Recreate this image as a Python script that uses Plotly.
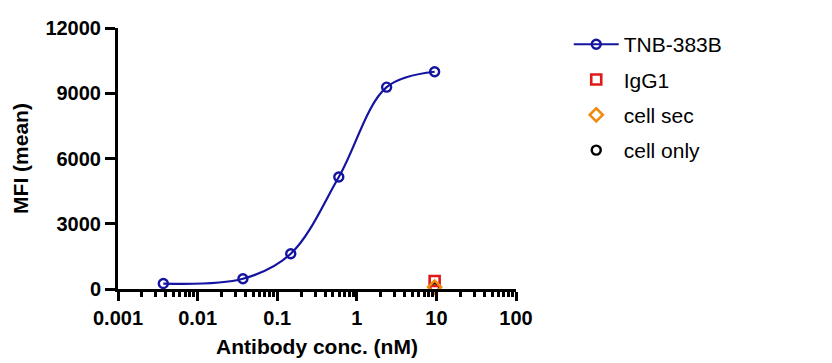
import plotly.graph_objects as go

# Data
conc_nM = [0.00371, 0.0371, 0.148, 0.594, 2.37, 9.5]
tnb_mfi = [250, 470, 1620, 5150, 9280, 9990]
igg1_conc = [9.5]
igg1_mfi = [370]
cellsec_conc = [9.5]
cellsec_mfi = [90]
cellonly_conc = [9.5]
cellonly_mfi = [60]

x_ticks = [0.001, 0.01, 0.1, 1, 10, 100]
x_ticklabels = ["0.001", "0.01", "0.1", "1", "10", "100"]
y_ticks = [0, 3000, 6000, 9000, 12000]
y_ticklabels = ["0", "3000", "6000", "9000", "12000"]

FONT = "Arial, Liberation Sans, sans-serif"
BLUE = "#1414A0"
RED = "#E01818"
ORANGE = "#F08A10"

fig = go.Figure()
fig.add_trace(go.Scatter(
    x=conc_nM, y=tnb_mfi, mode="lines+markers", name="TNB-383B",
    line=dict(color=BLUE, width=2.2, shape="spline", smoothing=1.0),
    marker=dict(symbol="circle-open", size=9, color=BLUE, line=dict(width=2.4, color=BLUE)),
    cliponaxis=False, legendgroup="a"))
fig.add_trace(go.Scatter(
    x=cellonly_conc, y=cellonly_mfi, mode="markers", name="cell only",
    marker=dict(symbol="circle-open", size=9, color="black", line=dict(width=2.4, color="black")),
    cliponaxis=False, legendgroup="d", showlegend=False))
fig.add_trace(go.Scatter(
    x=igg1_conc, y=igg1_mfi, mode="markers", name="IgG1",
    marker=dict(symbol="square-open", size=10, color=RED, line=dict(width=2.6, color=RED)),
    cliponaxis=False, legendgroup="b"))
fig.add_trace(go.Scatter(
    x=cellsec_conc, y=cellsec_mfi, mode="markers", name="cell sec",
    marker=dict(symbol="diamond-open", size=10, color=ORANGE, line=dict(width=2.6, color=ORANGE)),
    cliponaxis=False, legendgroup="c"))
fig.add_trace(go.Scatter(
    x=[None], y=[None], mode="markers", name="cell only",
    marker=dict(symbol="circle-open", size=9, color="black", line=dict(width=2.4, color="black")),
    legendgroup="d"))

# page body adds an 8px offset; margins compensate for it
fig.update_layout(
    width=832, height=363,
    margin=dict(l=110, r=324, t=20, b=82, autoexpand=False),
    paper_bgcolor="white", plot_bgcolor="white",
    font=dict(family=FONT, color="black"),
    showlegend=True,
    legend=dict(x=1.1325, y=1.015, xanchor="left", yanchor="top",
                font=dict(size=21, family=FONT, color="black"),
                tracegroupgap=5, itemwidth=45, bgcolor="rgba(0,0,0,0)"),
)
fig.update_xaxes(
    type="log", range=[-3, 2], automargin=False,
    tickvals=x_ticks, ticktext=x_ticklabels,
    showline=True, linecolor="black", linewidth=3,
    ticks="outside", ticklen=9, tickwidth=3, tickcolor="black",
    tickfont=dict(size=20, family=FONT, color="black", weight="bold"),
    minor=dict(ticks="outside", ticklen=5, tickwidth=3, tickcolor="black", dtick="D1", showgrid=False),
    showgrid=False, zeroline=False,
    title=dict(text="Antibody conc. (nM)", font=dict(size=21, family=FONT, color="black", weight="bold"), standoff=12),
)
fig.update_yaxes(
    range=[0, 12000], automargin=False,
    tickvals=y_ticks, ticktext=y_ticklabels,
    showline=True, linecolor="black", linewidth=3,
    ticks="outside", ticklen=10, tickwidth=3, tickcolor="black",
    tickfont=dict(size=20, family=FONT, color="black", weight="bold"),
    showgrid=False, zeroline=False,
    title=dict(text="MFI (mean)", font=dict(size=21, family=FONT, color="black", weight="bold"), standoff=12),
)

fig.write_html("out.html")
